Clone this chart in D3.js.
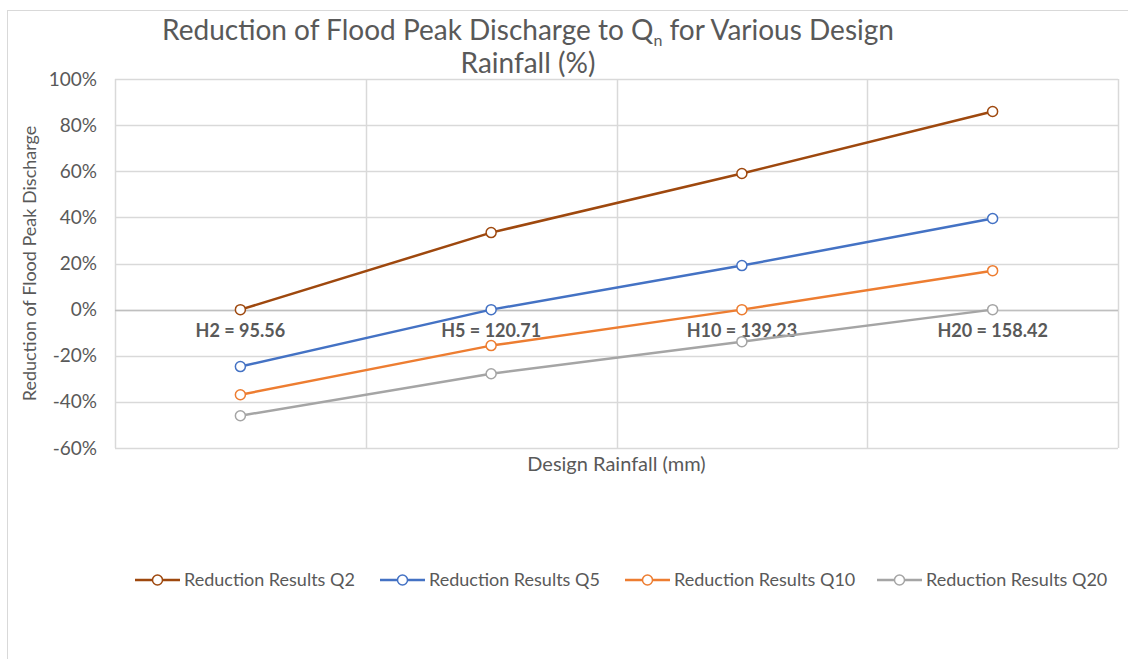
<!DOCTYPE html>
<html>
<head>
<meta charset="utf-8">
<script src="https://cdn.jsdelivr.net/npm/d3@7"></script>
<style>
  html, body { margin: 0; padding: 0; background: #fff; }
  svg { display: block; font-family: Lato, "Open Sans", sans-serif; }
</style>
</head>
<body>
<svg id="chart" width="1128" height="659"></svg>
<script>
// Design rainfall return periods and their depths (mm)
const categories = ["H2 = 95.56", "H5 = 120.71", "H10 = 139.23", "H20 = 158.42"];

// Reduction of flood peak discharge (fraction) per design discharge Qn
const seriesNames = ["Reduction Results Q2", "Reduction Results Q5", "Reduction Results Q10", "Reduction Results Q20"];
const q2 = [0.00, 0.334, 0.590, 0.859];
const q5 = [-0.247, 0.00, 0.191, 0.395];
const q10 = [-0.369, -0.156, 0.00, 0.169];
const q20 = [-0.460, -0.278, -0.139, 0.00];
const yTicks = [-0.6, -0.4, -0.2, 0, 0.2, 0.4, 0.6, 0.8, 1.0];
const colors = ["#9E480E", "#4472C4", "#ED7D31", "#A5A5A5"];

const series = seriesNames.map((name, i) => ({
  name, color: colors[i], values: [q2, q5, q10, q20][i]
}));

const svg = d3.select("#chart");
const textColor = "#595959";

// Outer chart frame
svg.append("rect")
  .attr("x", 7.5).attr("y", 10.5)
  .attr("width", 1140).attr("height", 660)
  .attr("fill", "none").attr("stroke", "#d9d9d9").attr("stroke-width", 1);

const plot = { left: 115, right: 1118, top: 79, bottom: 448 };

const x = d3.scaleBand().domain(categories).range([plot.left, plot.right]).padding(0);
const y = d3.scaleLinear().domain([-0.6, 1.0]).range([plot.bottom, plot.top]);

// Horizontal gridlines
svg.append("g")
  .selectAll("line")
  .data(yTicks)
  .join("line")
  .attr("x1", plot.left).attr("x2", plot.right)
  .attr("y1", d => Math.round(y(d)) + 0.5).attr("y2", d => Math.round(y(d)) + 0.5)
  .attr("stroke", "#d9d9d9").attr("stroke-width", 1.5);

// Vertical gridlines at category boundaries
const boundaries = categories.map(c => x(c)).concat([plot.right]);
svg.append("g")
  .selectAll("line")
  .data(boundaries)
  .join("line")
  .attr("x1", d => Math.round(d) + 0.5).attr("x2", d => Math.round(d) + 0.5)
  .attr("y1", plot.top).attr("y2", plot.bottom)
  .attr("stroke", "#d9d9d9").attr("stroke-width", 1.5);

// Y axis labels (plain hyphen for negatives)
const pct = v => Math.round(v * 100) + "%";
const yAxis = d3.axisLeft(y)
  .tickValues(yTicks)
  .tickFormat(pct)
  .tickSize(0)
  .tickPadding(18);
const yg = svg.append("g").attr("transform", `translate(${plot.left},0)`).call(yAxis);
yg.select(".domain").remove();
yg.selectAll("text")
  .attr("fill", textColor)
  .style("font-size", "19px")
  .style("font-family", "Lato, sans-serif");

// Horizontal axis line crossing at 0%
svg.append("line")
  .attr("x1", plot.left).attr("x2", plot.right)
  .attr("y1", Math.round(y(0)) + 0.5).attr("y2", Math.round(y(0)) + 0.5)
  .attr("stroke", "#bfbfbf").attr("stroke-width", 1.5);

// Category labels sit just below the 0% line
const xAxis = d3.axisBottom(x).tickSize(0).tickPadding(15);
const xg = svg.append("g").attr("transform", `translate(0,${y(0)})`).call(xAxis);
xg.select(".domain").remove();
xg.selectAll("text")
  .attr("fill", textColor)
  .style("font-size", "18px")
  .style("font-weight", "bold")
  .style("font-family", "Lato, sans-serif");

// Series lines and markers
const line = d3.line()
  .x((d, i) => x(categories[i]) + x.bandwidth() / 2)
  .y(d => y(d));

const sg = svg.append("g")
  .selectAll("g")
  .data(series)
  .join("g");

sg.append("path")
  .attr("d", d => line(d.values))
  .attr("fill", "none")
  .attr("stroke", d => d.color)
  .attr("stroke-width", 2.5)
  .attr("stroke-linejoin", "round");

sg.selectAll("circle")
  .data(d => d.values.map((v, i) => ({ v, i, color: d.color })))
  .join("circle")
  .attr("cx", d => x(categories[d.i]) + x.bandwidth() / 2)
  .attr("cy", d => y(d.v))
  .attr("r", 5)
  .attr("fill", "#fff")
  .attr("stroke", d => d.color)
  .attr("stroke-width", 1.5);

// Title with subscript n
const title = svg.append("text")
  .attr("x", 528).attr("y", 40)
  .attr("text-anchor", "middle")
  .attr("fill", textColor)
  .style("font-size", "28px");
title.append("tspan").text("Reduction of Flood Peak Discharge to Q");
title.append("tspan").attr("dy", 6).style("font-size", "16px").text("n");
title.append("tspan").attr("dy", -6).text(" for Various Design");
svg.append("text")
  .attr("x", 528).attr("y", 73)
  .attr("text-anchor", "middle")
  .attr("fill", textColor)
  .style("font-size", "28px")
  .text("Rainfall (%)");

// Axis titles
svg.append("text")
  .attr("transform", `translate(36,${(plot.top + plot.bottom) / 2}) rotate(-90)`)
  .attr("text-anchor", "middle")
  .attr("fill", textColor)
  .style("font-size", "18px")
  .text("Reduction of Flood Peak Discharge");

svg.append("text")
  .attr("x", (plot.left + plot.right) / 2).attr("y", 471)
  .attr("text-anchor", "middle")
  .attr("fill", textColor)
  .style("font-size", "20px")
  .text("Design Rainfall (mm)");

// Legend
const legendX = [135, 380, 625, 877];
const lg = svg.append("g")
  .selectAll("g")
  .data(series)
  .join("g")
  .attr("transform", (d, i) => `translate(${legendX[i]},580)`);
lg.append("line")
  .attr("x1", 0).attr("x2", 45).attr("y1", 0).attr("y2", 0)
  .attr("stroke", d => d.color).attr("stroke-width", 2.5);
lg.append("circle")
  .attr("cx", 22.5).attr("cy", 0).attr("r", 5)
  .attr("fill", "#fff").attr("stroke", d => d.color).attr("stroke-width", 1.5);
lg.append("text")
  .attr("x", 49).attr("y", 0).attr("dy", "0.35em")
  .attr("fill", textColor)
  .style("font-size", "18px")
  .text(d => d.name);
</script>
</body>
</html>
